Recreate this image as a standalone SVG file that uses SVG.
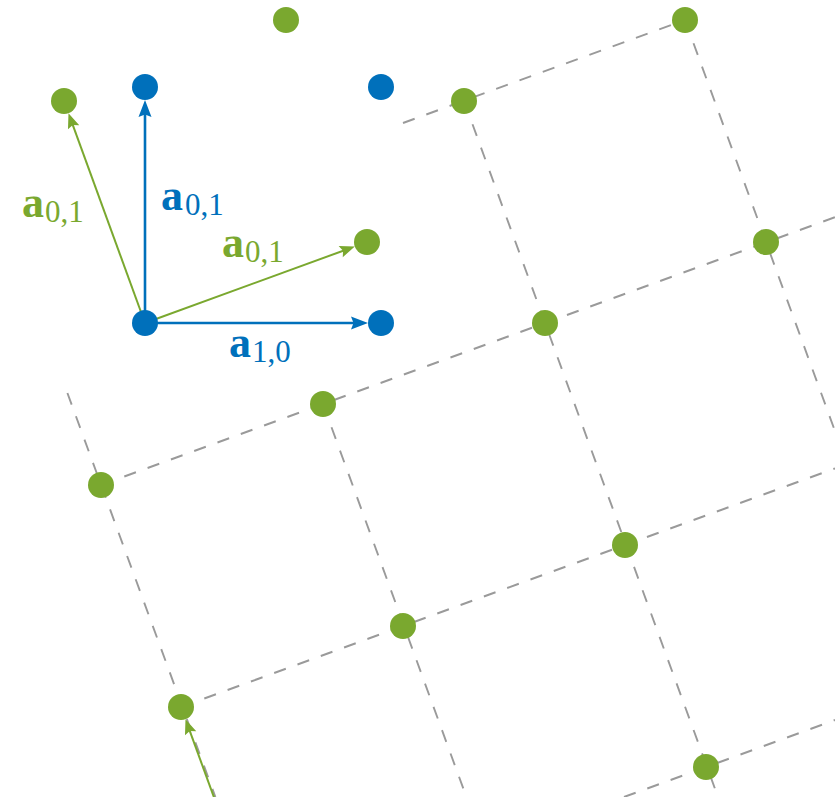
<svg xmlns="http://www.w3.org/2000/svg" width="835" height="797" viewBox="0 0 835 797">
<style>
.grid{stroke:#9a9a9a;stroke-width:1.9;stroke-dasharray:12.4 12.4;fill:none}
.gdot{fill:#7aa82f}
.bdot{fill:#0070bb}
.garr{stroke:#7aa82f;stroke-width:2;fill:none;marker-end:url(#gh)}
.barr{stroke:#0070bb;stroke-width:2.6;fill:none;marker-end:url(#bh)}
.lab{font-family:"Liberation Serif","Times New Roman",serif}
.big{font-weight:bold;font-size:44px}
.sub{font-size:31px}
.g{fill:#7aa82f}
.b{fill:#0070bb}
</style>
<defs>
<marker id="bh" markerUnits="userSpaceOnUse" markerWidth="20" markerHeight="16" refX="12" refY="0" viewBox="-1 -8 20 16" orient="auto" overflow="visible">
<path d="M17,0 L0,-6.5 L2.5,0 L0,6.5 Z" fill="#0070bb"/>
</marker>
<marker id="gh" markerUnits="userSpaceOnUse" markerWidth="20" markerHeight="16" refX="10" refY="0" viewBox="-1 -8 20 16" orient="auto" overflow="visible">
<path d="M15,0 L0,-6 L2.5,0 L0,6 Z" fill="#7aa82f"/>
</marker>
</defs>
<g id="connectors">
<g id="grid">
<line class="grid" x1="403" y1="123" x2="685" y2="20"/>
<line class="grid" x1="101" y1="485" x2="835" y2="217.2"/>
<line class="grid" x1="181" y1="707" x2="835" y2="468.4"/>
<line class="grid" x1="624" y1="797" x2="835" y2="720"/>
<line class="grid" x1="685" y1="20" x2="835" y2="431.1"/>
<line class="grid" x1="464" y1="101" x2="718" y2="797"/>
<line class="grid" x1="323" y1="404" x2="466.4" y2="797"/>
<line class="grid" x1="67.4" y1="393" x2="215.4" y2="797"/>
</g>
<line id="arr-g-a" class="garr" x1="145" y1="323" x2="350.1" y2="248.2"/>
<line id="arr-g-b" class="garr" x1="145" y1="323" x2="70.2" y2="117.9"/>
<line id="arr-g-b2" class="garr" x1="262" y1="929" x2="187.2" y2="723.9"/>
<line id="arr-b-v" class="barr" x1="145" y1="323" x2="145" y2="105"/>
<line id="arr-b-h" class="barr" x1="145" y1="323" x2="363" y2="323"/>
</g>
<g id="green-points">
<circle id="g1" class="gdot" cx="286" cy="20" r="13"/>
<circle id="g2" class="gdot" cx="685" cy="20" r="13"/>
<circle id="g3" class="gdot" cx="64" cy="101" r="13"/>
<circle id="g4" class="gdot" cx="464" cy="101" r="13"/>
<circle id="g5" class="gdot" cx="367" cy="242" r="13"/>
<circle id="g6" class="gdot" cx="766" cy="242" r="13"/>
<circle id="g7" class="gdot" cx="545" cy="323" r="13"/>
<circle id="g8" class="gdot" cx="323" cy="404" r="13"/>
<circle id="g9" class="gdot" cx="101" cy="485" r="13"/>
<circle id="g10" class="gdot" cx="625" cy="545" r="13"/>
<circle id="g11" class="gdot" cx="403" cy="626" r="13"/>
<circle id="g12" class="gdot" cx="181" cy="707" r="13"/>
<circle id="g13" class="gdot" cx="706" cy="767" r="13"/>
</g>
<g id="blue-points">
<circle id="b1" class="bdot" cx="145" cy="87" r="13"/>
<circle id="b2" class="bdot" cx="381" cy="87" r="13"/>
<circle id="b0" class="bdot" cx="145" cy="323" r="13"/>
<circle id="b3" class="bdot" cx="381" cy="323" r="13"/>
</g>
<g id="labels" class="lab">
<text id="lab-g-left" class="g"><tspan class="big" x="22" y="217">a</tspan><tspan class="sub" x="45" y="222">0,1</tspan></text>
<text id="lab-b-v" class="b"><tspan class="big" x="161" y="210">a</tspan><tspan class="sub" x="185" y="215">0,1</tspan></text>
<text id="lab-g-mid" class="g"><tspan class="big" x="222" y="257">a</tspan><tspan class="sub" x="245" y="262">0,1</tspan></text>
<text id="lab-b-h" class="b"><tspan class="big" x="229" y="357">a</tspan><tspan class="sub" x="252" y="362">1,0</tspan></text>
</g>
</svg>
